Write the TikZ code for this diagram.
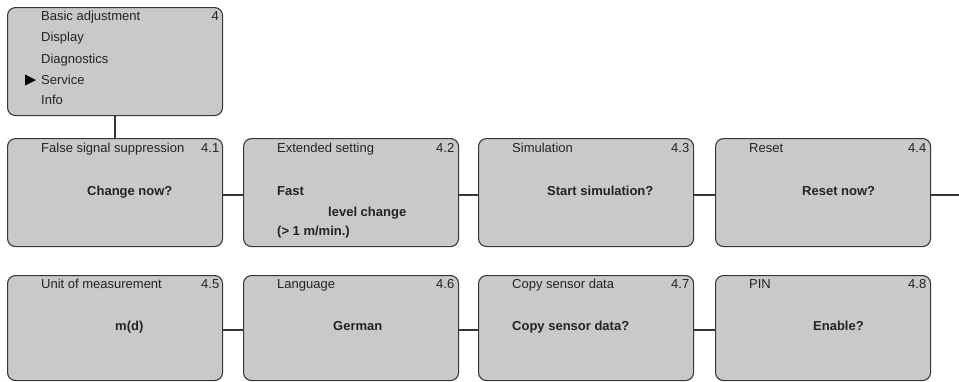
\documentclass[tikz,border=0pt]{standalone}
\usepackage{fontspec}
\setmainfont{Liberation Sans}
\usepackage{tikz}

\definecolor{boxg}{RGB}{200,201,203}
\definecolor{lineg}{RGB}{55,55,55}
\definecolor{txtg}{RGB}{35,35,35}

\tikzset{
  menubox/.style={draw=lineg,fill=boxg,rounded corners=8pt,line width=1.1pt,
    minimum width=215pt,minimum height=108pt,anchor=north west,inner sep=0pt},
  link/.style={draw=lineg,line width=2.6pt},
  entry/.style={anchor=base west,inner sep=0pt,text=txtg},
  menunum/.style={anchor=base east,inner sep=0pt,text=txtg},
  question/.style={anchor=base west,inner sep=0pt,text=txtg,font=\fontsize{13}{15}\selectfont\bfseries}
}

\begin{document}
\begin{tikzpicture}[x=1pt,y=-1pt,every node/.append style={font=\fontsize{13}{15}\selectfont}]
			\useasboundingbox (0,0) rectangle (959,381);

			% main menu
			\node[menubox] (m4) at (7,7) {};
			\node[entry] (t4a) at (41,20.7) {Basic adjustment};
			\node[entry] (t4b) at (41,41.7) {Display};
			\node[entry] (t4c) at (41,63.7) {Diagnostics};
			\node[entry] (t4d) at (41,84.7) {Service};
			\node[entry] (t4e) at (41,104.7) {Info};
			\node[menunum] (n4) at (219,20.7) {4};
			\fill[black] (25,74.5) -- (36,80) -- (25,85.5) -- cycle;

			% first row
			\node[menubox] (m41) at (7,138) {};
			\node[menubox] (m42) at (243,138) {};
			\node[menubox] (m43) at (478,138) {};
			\node[menubox] (m44) at (715,138) {};

			\node[entry] (t41) at (41,152) {False signal suppression};
			\node[menunum] (n41) at (219.5,152) {4.1};
			\node[question] (q41) at (87,195) {Change now?};

			\node[entry] (t42) at (277,152) {Extended setting};
			\node[menunum] (n42) at (454.5,152) {4.2};
			\node[question] (q42a) at (277,195) {Fast};
			\node[question] (q42b) at (328,216) {level change};
			\node[question] (q42c) at (277,235) {(> 1 m/min.)};

			\node[entry] (t43) at (512,152) {Simulation};
			\node[menunum] (n43) at (689.5,152) {4.3};
			\node[question] (q43) at (547,195) {Start simulation?};

			\node[entry] (t44) at (749,152) {Reset};
			\node[menunum] (n44) at (926.5,152) {4.4};
			\node[question] (q44) at (802,195) {Reset now?};

			% second row
			\node[menubox,minimum height=105pt] (m45) at (7,275) {};
			\node[menubox,minimum height=105pt] (m46) at (243,275) {};
			\node[menubox,minimum height=105pt] (m47) at (478,275) {};
			\node[menubox,minimum height=105pt] (m48) at (715,275) {};

			\node[entry] (t45) at (41,288) {Unit of measurement};
			\node[menunum] (n45) at (219.5,288) {4.5};
			\node[question] (q45) at (115,330) {m(d)};

			\node[entry] (t46) at (277,288) {Language};
			\node[menunum] (n46) at (454.5,288) {4.6};
			\node[question] (q46) at (333,330) {German};

			\node[entry] (t47) at (512,288) {Copy sensor data};
			\node[menunum] (n47) at (689.5,288) {4.7};
			\node[question] (q47) at (512,330) {Copy sensor data?};

			\node[entry] (t48) at (749,288) {PIN};
			\node[menunum] (n48) at (926.5,288) {4.8};
			\node[question] (q48) at (813,330) {Enable?};

			% connections
			\coordinate (rowend) at (959,195);
			\draw[link] (m4.south) -- (m41.north);
			\draw[link] (m41.east |- 0,195) -- (m42.west |- 0,195);
			\draw[link] (m42.east |- 0,195) -- (m43.west |- 0,195);
			\draw[link] (m43.east |- 0,195) -- (m44.west |- 0,195);
			\draw[link] (m44.east |- rowend) -- (rowend);
			\draw[link] (m45.east |- 0,330) -- (m46.west |- 0,330);
			\draw[link] (m46.east |- 0,330) -- (m47.west |- 0,330);
			\draw[link] (m47.east |- 0,330) -- (m48.west |- 0,330);
		\end{tikzpicture}
\end{document}
